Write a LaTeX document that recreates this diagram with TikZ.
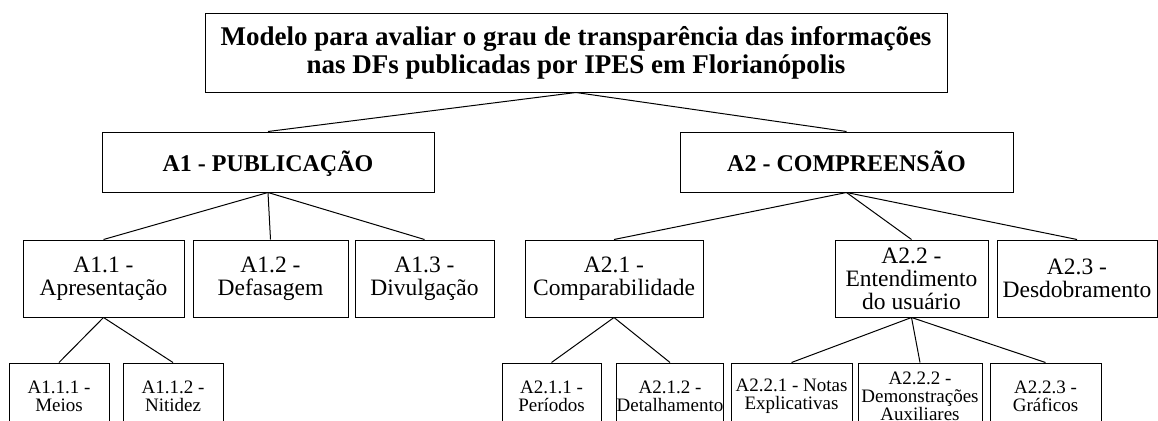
\documentclass[tikz,border=0pt]{standalone}
\usepackage{fontspec}
\setmainfont{Liberation Serif}
\usepackage{tikz}
\usetikzlibrary{positioning}

\begin{document}
\begin{tikzpicture}[x=1pt,y=1pt,line width=1pt,
    every node/.style={draw,rectangle,align=center,inner sep=0pt},
    goal/.style={minimum height=78pt,font=\fontsize{27}{28.5}\selectfont\bfseries},
    area/.style={minimum height=60pt,text height=18pt,text depth=0pt,font=\fontsize{24}{28}\selectfont\bfseries},
    crit/.style={minimum height=77pt,font=\fontsize{23.5}{23}\selectfont},
    subcrit/.style={minimum height=66pt,font=\fontsize{19}{18}\selectfont}]
  \path[use as bounding box,clip] (0,0) rectangle (1158,-420);

  \node[goal,minimum width=742pt] (top) at (576,-53)
    {Modelo para avaliar o grau de transparência das informações\\nas DFs publicadas por IPES em Florianópolis};

  \node[area,minimum width=332pt] (a1) at (268,-162) {A1 - PUBLICAÇÃO};
  \node[area,minimum width=333pt] (a2) [right of=a1,node distance=578.5pt] {A2 - COMPREENSÃO};

  \node[crit,minimum width=161pt] (a11) at (103.5,-278.5) {A1.1 -\\Apresentação};
  \node[crit,minimum width=155pt] (a12) [right of=a11,node distance=167pt] {A1.2 -\\Defasagem};
  \node[crit,minimum width=139pt] (a13) [right of=a12,node distance=154pt] {A1.3 -\\Divulgação};
  \node[crit,minimum width=178pt] (a21) [right of=a13,node distance=189.5pt] {A2.1 -\\Comparabilidade};
  \node[crit,minimum width=153pt] (a22) [right of=a21,node distance=297.5pt] {A2.2 -\\Entendimento\\do usuário};
  \node[crit,minimum width=160pt] (a23) [right of=a22,node distance=165.5pt] {A2.3 -\\Desdobramento};

  \node[subcrit,minimum width=100pt] (a111) at (59,-396) {A1.1.1 -\\Meios};
  \node[subcrit,minimum width=100pt] (a112) [right of=a111,node distance=114pt] {A1.1.2 -\\Nitidez};
  \node[subcrit,minimum width=99pt] (a211) at (551.5,-396) {A2.1.1 -\\Períodos};
  \node[subcrit,minimum width=106pt] (a212) [right of=a211,node distance=118.5pt] {A2.1.2 -\\Detalhamento};
  \node[subcrit,minimum width=121pt] (a221) [right of=a212,node distance=121.5pt] {A2.2.1 - Notas\\Explicativas};
  \node[subcrit,minimum width=124pt] (a222) [right of=a221,node distance=128.5pt] {A2.2.2 -\\Demonstrações\\Auxiliares};
  \node[subcrit,minimum width=111pt] (a223) [right of=a222,node distance=125.5pt] {A2.2.3 -\\Gráficos};

  \path (top.south) edge (a1.north)
                    edge (a2.north)
        (a1.south)  edge (a11.north)
                    edge (a12.north)
                    edge (a13.north)
        (a2.south)  edge (a21.north)
                    edge (a22.north)
                    edge (a23.north)
        (a11.south) edge (a111.north)
                    edge (a112.north)
        (a21.south) edge (a211.north)
                    edge (a212.north)
        (a22.south) edge (a221.north)
                    edge (a222.north)
                    edge (a223.north);
\end{tikzpicture}
\end{document}
